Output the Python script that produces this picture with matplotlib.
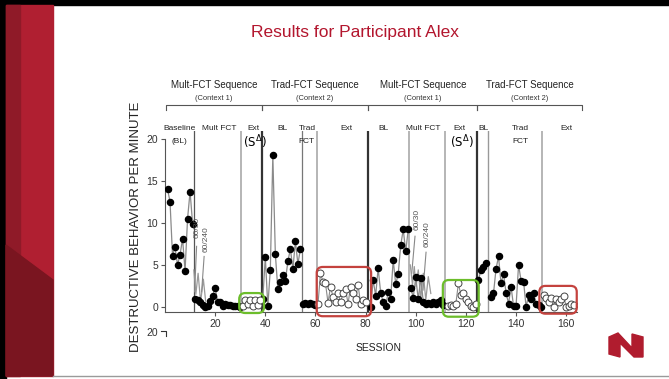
"""Slide: results for participant Alex (destructive behavior per session)."""

import matplotlib

matplotlib.use("Agg")
import matplotlib.pyplot as plt
from matplotlib.patches import FancyBboxPatch, Polygon, Rectangle
import numpy as np

plt.rcParams["font.family"] = ["Liberation Sans", "DejaVu Sans"]

# ---- data (rate of destructive behavior per minute, by session) ----
bl1_sess = np.arange(1, 12)
bl1 = [14.0, 12.5, 6.1, 7.1, 5.0, 6.2, 8.1, 4.3, 10.5, 13.7, 9.9]
mf1_sess = np.arange(12, 31)
mf1 = [0.95, 0.8, 0.55, 0.2, 0.05, 0.1, 0.7, 1.3, 2.3, 0.6, 0.6, 0.1, 0.3, 0.2,
       0.2, 0.1, 0.1, 0.1, 0.05]
ext1_sess = np.arange(31, 39)
ext1 = [0.1, 0.85, 0.4, 0.85, 0.1, 0.85, 0.2, 0.8]
bl2_sess = np.arange(39, 55)
bl2 = [1.0, 5.9, 0.1, 4.4, 18.0, 6.3, 2.1, 3.0, 3.8, 3.1, 5.4, 6.9, 4.5, 7.8,
       5.1, 6.9]
tf2_sess = np.arange(55, 61)
tf2 = [0.3, 0.45, 0.35, 0.5, 0.3, 0.2]
ext2_sess = np.arange(61, 81)
ext2 = [0.3, 4.0, 3.0, 2.8, 0.5, 2.4, 1.2, 0.6, 1.6, 0.6, 1.6, 2.1, 0.4, 2.4,
        1.7, 1.0, 2.6, 0.4, 0.8, 0.6]
bl3_sess = np.arange(82, 98)
bl3 = [0.0, 3.2, 1.35, 4.6, 1.7, 0.6, 0.1, 1.75, 1.0, 5.6, 2.7, 3.9, 7.3, 9.2,
       6.6, 9.2]
mf3_sess = np.arange(98, 112)
mf3 = [2.3, 1.1, 3.5, 0.9, 3.4, 0.6, 0.3, 0.5, 0.3, 0.6, 0.4, 0.6, 0.8, 0.2]
ext3_sess = np.arange(113, 125)
ext3 = [0.1, 0.2, 0.1, 0.4, 2.8, 1.4, 1.6, 1.0, 0.6, 0.1, 0.0, 0.3]
bl4_sess = np.arange(125, 129)
bl4 = [3.2, 4.4, 4.8, 5.2]
tf4_sess = np.arange(130, 151)
tf4 = [1.2, 1.6, 4.5, 6.0, 2.8, 3.9, 1.7, 0.4, 2.4, 0.1, 0.1, 5.0, 3.1, 3.0,
       0.0, 1.4, 1.0, 1.6, 0.4, 0.2, 0.0]
ext4_sess = np.arange(151, 164)
ext4 = [1.4, 1.1, 0.6, 1.1, 0.0, 1.0, 0.6, 1.0, 1.3, 0.0, 0.1, 0.3, 0.2]

# alternating-component traces (gray, no markers) during Mult FCT
alt1_sess = [11.5, 12.3, 13.2, 14.2, 15.3, 16.2]
alt1 = [4.4, 1.5, 4.0, 0.6, 3.3, 0.7]
alt3_sess = [97.8, 98.7, 99.4, 100.1, 101.0, 102.0, 103.0, 104.0, 105.0, 106.0]
alt3 = [5.0, 2.6, 4.8, 2.4, 4.4, 1.0, 4.0, 0.8, 3.6, 1.6]

filled_phases = [(bl1_sess, bl1), (mf1_sess, mf1), (bl2_sess, bl2), (tf2_sess, tf2),
                 (bl3_sess, bl3), (mf3_sess, mf3), (bl4_sess, bl4), (tf4_sess, tf4)]
open_phases = [(ext1_sess, ext1), (ext2_sess, ext2), (ext3_sess, ext3), (ext4_sess, ext4)]

# phase change lines: (session, color, width)
phase_lines = [(11.5, "#555555", 0.9), (30.5, "#b0b0b0", 1.3), (38.5, "#333333", 1.6),
               (54.5, "#777777", 0.9), (60.5, "#b0b0b0", 1.3), (81.0, "#333333", 1.6),
               (97.5, "#b0b0b0", 1.3), (111.8, "#b0b0b0", 1.3), (124.6, "#333333", 1.6),
               (129.0, "#999999", 1.0), (150.5, "#b0b0b0", 1.3)]

context_edges = [0.4, 38.5, 81.0, 124.6, 166.3]
seq_names = ["Mult-FCT Sequence", "Trad-FCT Sequence", "Mult-FCT Sequence", "Trad-FCT Sequence"]
ctx_names = ["(Context 1)", "(Context 2)", "(Context 1)", "(Context 2)"]

phase_labels = [(5.6, "Baseline", "(BL)"), (21.5, "Mult FCT", None), (35.1, "Ext", "sd"),
                (47.0, "BL", None), (56.6, "Trad", "FCT"), (72.2, "Ext", None),
                (87.0, "BL", None), (103.0, "Mult FCT", None), (117.6, "Ext", "sd"),
                (127.2, "BL", None), (141.9, "Trad", "FCT"), (160.0, "Ext", None)]

# highlight boxes: (x0, x1, y0, y1, color)
boxes = [(29.6, 39.5, -0.72, 1.65, "#6cbd2b"), (60.5, 82.2, -1.1, 4.75, "#c4423e"),
         (110.8, 125.1, -1.16, 3.2, "#6cbd2b"), (149.3, 164.2, -0.8, 2.5, "#c4423e")]

W, H = 669, 379
fig = plt.figure(figsize=(W / 100, H / 100), dpi=100)

# slide background in pixel coordinates
bg = fig.add_axes([0, 0, 1, 1])
bg.set_xlim(0, W)
bg.set_ylim(H, 0)
bg.axis("off")
bg.add_patch(Rectangle((0, 0), W, 5, color="black"))
bg.add_patch(Rectangle((0, 0), 6, H, color="black"))
bg.add_patch(Rectangle((6, 5), 47, 371, color="#b01f31"))
bg.add_patch(Rectangle((6, 5), 14, 371, color="#8f1a28"))
bg.add_patch(Polygon([(6, 245), (53, 280), (53, 376), (6, 376)], color="#7a1520"))
bg.plot([53, W], [375.5, 375.5], color="#9a9a9a", lw=1)
bg.text(355, 32, "Results for Participant Alex", ha="center", va="center",
        fontsize=12.5, color="#b3162e")
# UNMC logo
bg.add_patch(Polygon([(609, 337), (618, 333), (632, 348), (632, 334), (643, 337),
                      (643, 357), (634, 357), (620, 343), (620, 357), (609, 354)],
                     color="#b01c2e"))
# top of the next panel, cut off
bg.text(158, 333, "20", ha="right", va="center", fontsize=7.5, color="#333333")
bg.plot([161, 166, 166], [331, 331, 336], color="#333333", lw=0.8)

# data axes
x0, x1, y_top, y_bot = 165, 577, 131, 312
ax = fig.add_axes([x0 / W, (H - y_bot) / H, (x1 - x0) / W, (y_bot - y_top) / H])
ax.patch.set_alpha(0)
ax.set_xlim(0, 164.3)
ax.set_ylim(-0.6, 20.9)

for s, c, lw in phase_lines:
    ax.axvline(s, color=c, lw=lw, zorder=1)

for xs, ys in filled_phases:
    ax.plot(xs, ys, color="#8a8a8a", lw=0.9, marker="o", ms=4.4,
            mfc="black", mec="black", zorder=3)
for xs, ys in open_phases:
    ax.plot(xs, ys, color="#8a8a8a", lw=0.8, marker="o", ms=5,
            mfc="white", mec="#444444", mew=0.7, zorder=3)
for xs, ys in [(alt1_sess, alt1), (alt3_sess, alt3)]:
    ax.plot(xs, ys, color="#9a9a9a", lw=0.9, zorder=2)

# 60/30 and 60/240 annotations
for s, v, txt in [(12.9, 9.4, "60/30"), (16.4, 8.0, "60/240"),
                  (100.4, 10.4, "60/30"), (104.5, 8.6, "60/240")]:
    ax.text(s, v, txt, rotation=90, ha="center", va="center", fontsize=6, color="#555555")
for xa, ya, xb, yb in [(12.6, 7.2, 11.8, 1.8), (15.6, 6.0, 14.6, 1.8),
                       (99.7, 8.4, 98.4, 4.0), (104.1, 6.5, 102.9, 2.0)]:
    ax.plot([xa, xb], [ya, yb], color="#888888", lw=0.8, zorder=2)

aspect = (412 / 164.3) / (181 / 21.5)
for bx0, bx1, by0, by1, c in boxes:
    ax.add_patch(FancyBboxPatch((bx0, by0), bx1 - bx0, by1 - by0,
                                boxstyle="round,pad=0,rounding_size=2.4",
                                mutation_aspect=aspect, fill=False, ec=c, lw=1.6,
                                clip_on=False, zorder=4))

# sequence brackets and labels above the plot
for i in range(4):
    a, b = context_edges[i], context_edges[i + 1]
    ax.plot([a, a, b, b], [23.4, 24.0, 24.0, 23.4], color="#555555", lw=0.8, clip_on=False)
    ax.text((a + b) / 2, 26.35, seq_names[i], ha="center", va="center", fontsize=7,
            color="#222222")
    ax.text((a + b) / 2, 24.75, ctx_names[i], ha="center", va="center", fontsize=5.4,
            color="#333333")

for s, top, bottom in phase_labels:
    ax.text(s, 21.25, top, ha="center", va="center", fontsize=6, color="#222222")
    if bottom == "sd":
        ax.text(s + 0.8, 19.55, r"(S$^{\Delta}$)", ha="center", va="center", fontsize=8.5,
                color="black", family=["DejaVu Sans"])
    elif bottom:
        ax.text(s, 19.6, bottom, ha="center", va="center", fontsize=6, color="#222222")

ax.spines["top"].set_visible(False)
ax.spines["right"].set_visible(False)
ax.spines["left"].set_bounds(-0.6, 20)
for sp in ("left", "bottom"):
    ax.spines[sp].set_color("#555555")
    ax.spines[sp].set_linewidth(0.8)
ax.set_yticks([0, 5, 10, 15, 20])
ax.set_xticks([20, 40, 60, 80, 100, 120, 140, 160])
ax.tick_params(length=3, width=0.8, color="#555555", labelsize=7.5, labelcolor="#333333", pad=2)

ax.text(-0.07, 0.47, "DESTRUCTIVE BEHAVIOR PER MINUTE", transform=ax.transAxes,
        rotation=90, ha="center", va="center", fontsize=9.5, color="#222222")
ax.text(85, -0.2, "SESSION", transform=ax.get_xaxis_transform(), ha="center", va="center",
        fontsize=7.5, color="#222222")

fig.savefig("out.png", dpi=100)
